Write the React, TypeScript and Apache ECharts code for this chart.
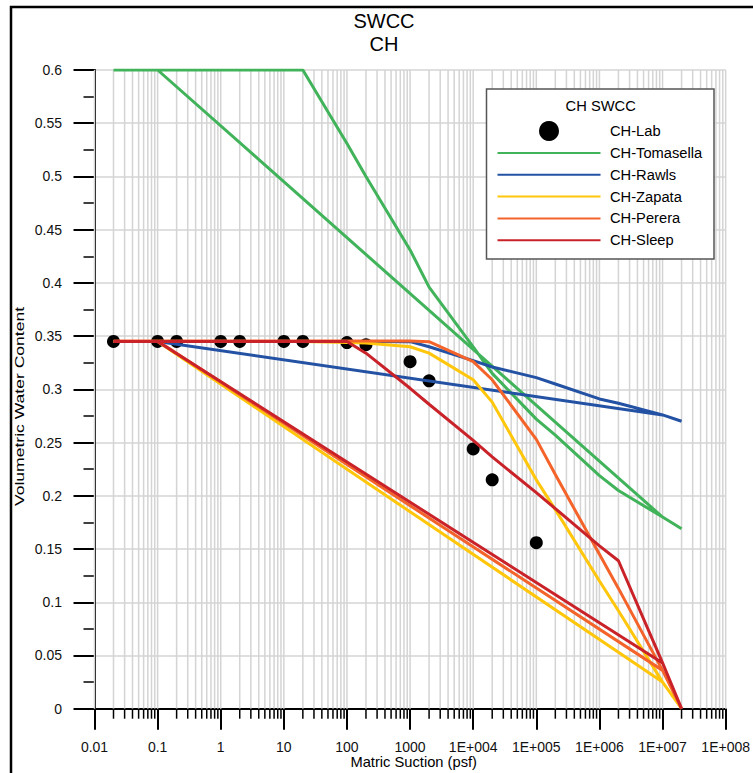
import React, { useEffect, useRef } from 'react';
import * as echarts from 'echarts';

// ---- data ----
const SUCTION = [0.02, 0.1, 0.2, 1, 2, 10, 20, 100, 200, 1000, 2000, 1e4, 2e4, 1e5, 2e5, 1e6, 2e6, 1e7, 2e7];
const LAB_SUCTION = [0.02, 0.1, 0.2, 1, 2, 10, 20, 100, 200, 1000, 2000, 1e4, 2e4, 1e5];
const LAB_WC = [0.345, 0.345, 0.345, 0.345, 0.345, 0.345, 0.345, 0.344, 0.342, 0.326, 0.308, 0.244, 0.215, 0.156];
const TOMASELLA = [0.6, 0.6, 0.6, 0.6, 0.6, 0.6, 0.6, 0.531, 0.5, 0.431, 0.396, 0.34, 0.315, 0.272, 0.257, 0.219, 0.205, 0.18, 0.169];
const RAWLS = [0.345, 0.345, 0.345, 0.345, 0.345, 0.345, 0.345, 0.345, 0.345, 0.3448, 0.34, 0.327, 0.321, 0.311, 0.305, 0.291, 0.287, 0.276, 0.27];
const ZAPATA = [0.345, 0.345, 0.345, 0.345, 0.345, 0.345, 0.345, 0.344, 0.3435, 0.34, 0.334, 0.309, 0.288, 0.215, 0.187, 0.12, 0.092, 0.025, 0];
const PERERA = [0.3455, 0.3455, 0.3455, 0.3455, 0.3455, 0.3455, 0.3455, 0.3455, 0.3455, 0.3455, 0.3448, 0.326, 0.309, 0.253, 0.22, 0.145, 0.113, 0.036, 0];
const SLEEP = [0.345, 0.345, 0.345, 0.345, 0.345, 0.345, 0.345, 0.345, 0.334, 0.301, 0.286, 0.252, 0.2365, 0.203, 0.188, 0.153, 0.139, 0.043, 0];

const SERIES_NAMES = ['CH-Lab', 'CH-Tomasella', 'CH-Rawls', 'CH-Zapata', 'CH-Perera', 'CH-Sleep'];
const X_TICK_VALUES = [0.01, 0.1, 1, 10, 100, 1000, 1e4, 1e5, 1e6, 1e7, 1e8];
const X_TICK_LABELS = ['0.01', '0.1', '1', '10', '100', '1000', '1E+004', '1E+005', '1E+006', '1E+007', '1E+008'];
const MINOR_MULTIPLIERS = [2, 3, 4, 5, 6, 7, 8, 9];

const COLORS = {
  lab: '#000000',
  tomasella: '#41B35A',
  rawls: '#2351A3',
  zapata: '#FFC60B',
  perera: '#F4632A',
  sleep: '#C92229',
};

const FONT = '"Liberation Sans", Arial, sans-serif';
const GRID_COLOR = '#d4d4d4';

// model curve followed by the return branch to the 0.1 psf point
function modelPath(values: number[]) {
  const pts = SUCTION.map((x, i) => [x, values[i]]);
  const iEnd = SUCTION.indexOf(1e7);
  const iStart = SUCTION.indexOf(0.1);
  pts.push([SUCTION[iEnd], values[iEnd]]);
  pts.push([SUCTION[iStart], values[iStart]]);
  return pts;
}

const hiddenSymbol = { color: 'rgba(0,0,0,0)', borderWidth: 0, opacity: 0 };

export default function App() {
  const ref = useRef<HTMLDivElement>(null);

  useEffect(() => {
    if (!ref.current) return;
    const chart = echarts.init(ref.current, null, { renderer: 'svg' });

    // grid lines: every decade and every 2..9 multiple; small ticks only for the multiples
    const gridLines: number[][] = [];
    X_TICK_VALUES.forEach((d, i) => {
      gridLines.push([d, 1]);
      if (i < X_TICK_VALUES.length - 1) MINOR_MULTIPLIERS.forEach((m) => gridLines.push([m * d, 0]));
    });

    const lineSeries = (name: string, values: number[], color: string) => ({
      name,
      type: 'line',
      data: modelPath(values),
      symbol: 'none',
      smooth: false,
      lineStyle: { color, width: 3 },
      itemStyle: { color },
      z: 3,
    });

    chart.setOption({
      animation: false,
      textStyle: { fontFamily: FONT },
      grid: { left: 94.5, right: 19.7, top: 70, bottom: 64.3, containLabel: false },
      legend: {
        orient: 'vertical',
        left: 496.5,
        top: 120.1,
        padding: 0,
        itemWidth: 103,
        itemHeight: 20,
        itemGap: 0,
        z: 6,
        selectedMode: false,
        textStyle: { fontSize: 14.7, lineHeight: 21.85, color: '#000', fontFamily: FONT, padding: [0, 0, 0, 4.5] },
        data: [
          { name: SERIES_NAMES[0], icon: 'circle' },
          { name: SERIES_NAMES[1], itemStyle: hiddenSymbol },
          { name: SERIES_NAMES[2], itemStyle: hiddenSymbol },
          { name: SERIES_NAMES[3], itemStyle: hiddenSymbol },
          { name: SERIES_NAMES[4], itemStyle: hiddenSymbol },
          { name: SERIES_NAMES[5], itemStyle: hiddenSymbol },
        ],
      },
      xAxis: {
        type: 'log',
        logBase: 10,
        min: 0.01,
        max: 1e8,
        splitNumber: 10,
        axisLine: { show: true, onZero: false, lineStyle: { color: '#000', width: 2 } },
        axisTick: { show: true, customValues: X_TICK_VALUES, length: 21, lineStyle: { color: '#000', width: 2 } },
        axisLabel: {
          customValues: X_TICK_VALUES,
          interval: 0,
          fontSize: 14,
          color: '#111',
          margin: 31,
          fontFamily: FONT,
          showMinLabel: true,
          showMaxLabel: true,
          hideOverlap: false,
          alignMinLabel: 'center',
          alignMaxLabel: 'center',
          formatter: (v: number) => {
            const idx = X_TICK_VALUES.findIndex((t) => Math.abs(Math.log10(v) - Math.log10(t)) < 1e-6);
            return idx >= 0 ? X_TICK_LABELS[idx] : '';
          },
        },
        splitLine: { show: false },
      },
      yAxis: {
        type: 'value',
        min: 0,
        max: 0.6,
        interval: 0.05,
        axisLine: { show: true, onZero: false, lineStyle: { color: '#000', width: 2 } },
        axisTick: { show: true, length: 21, lineStyle: { color: '#000', width: 2 } },
        minorTick: { show: true, splitNumber: 2, length: 11, lineStyle: { color: '#000', width: 1.5 } },
        axisLabel: { fontSize: 14, color: '#111', margin: 32.5, fontFamily: FONT },
        splitLine: { show: true, lineStyle: { color: GRID_COLOR, width: 1.5 } },
      },
      series: [
        {
          name: 'grid',
          type: 'custom',
          silent: true,
          clip: false,
          z: 1,
          data: gridLines,
          encode: { x: 0, y: 1 },
          renderItem: (params: any, api: any) => {
            const x = api.value(0);
            const isMajor = api.value(1) === 1;
            const top = api.coord([x, 0.6]);
            const bottom = api.coord([x, 0]);
            const children: any[] = [
              {
                type: 'line',
                shape: { x1: top[0], y1: top[1], x2: bottom[0], y2: bottom[1] },
                style: { stroke: GRID_COLOR, lineWidth: 1.5 },
              },
            ];
            if (!isMajor) {
              children.push({
                type: 'line',
                shape: { x1: bottom[0], y1: bottom[1], x2: bottom[0], y2: bottom[1] + 10 },
                style: { stroke: '#000', lineWidth: 1.5 },
              });
            }
            return { type: 'group', children };
          },
        },
        {
          name: SERIES_NAMES[0],
          type: 'scatter',
          data: LAB_SUCTION.map((x, i) => [x, LAB_WC[i]]),
          symbol: 'circle',
          symbolSize: 13,
          itemStyle: { color: COLORS.lab, opacity: 1 },
          z: 2,
        },
        lineSeries(SERIES_NAMES[1], TOMASELLA, COLORS.tomasella),
        lineSeries(SERIES_NAMES[2], RAWLS, COLORS.rawls),
        lineSeries(SERIES_NAMES[3], ZAPATA, COLORS.zapata),
        lineSeries(SERIES_NAMES[4], PERERA, COLORS.perera),
        lineSeries(SERIES_NAMES[5], SLEEP, COLORS.sleep),
      ],
      graphic: [
        {
          type: 'rect',
          z: 0,
          silent: true,
          shape: { x: 11, y: 7, width: 800, height: 800 },
          style: { fill: 'none', stroke: '#000', lineWidth: 2.5 },
        },
        {
          type: 'text',
          z: 6,
          x: 384,
          y: 9,
          style: { text: 'SWCC\nCH', fontSize: 20, lineHeight: 23, fill: '#000', align: 'center', verticalAlign: 'top', fontFamily: FONT },
        },
        {
          type: 'rect',
          z: 5,
          silent: true,
          shape: { x: 486.5, y: 89, width: 227.5, height: 170 },
          style: { fill: '#fff', stroke: '#555', lineWidth: 1.5 },
        },
        {
          type: 'text',
          z: 6,
          x: 600.7,
          y: 106,
          style: { text: 'CH SWCC', fontSize: 14.7, fill: '#000', align: 'center', verticalAlign: 'middle', fontFamily: FONT },
        },
        {
          type: 'text',
          z: 6,
          x: 413.7,
          y: 762.5,
          scaleX: 1.05,
          style: { text: 'Matric Suction (psf)', fontSize: 14, fill: '#000', align: 'center', verticalAlign: 'middle', fontFamily: FONT },
        },
        {
          type: 'text',
          z: 6,
          x: 19.5,
          y: 406.5,
          rotation: Math.PI / 2,
          scaleX: 1.3,
          style: { text: 'Volumetric Water Content', fontSize: 13.5, fill: '#000', align: 'center', verticalAlign: 'middle', fontFamily: FONT },
        },
      ],
    });

    return () => chart.dispose();
  }, []);

  return <div ref={ref} style={{ position: 'absolute', left: 0, top: 0, width: 753, height: 773 }} />;
}
